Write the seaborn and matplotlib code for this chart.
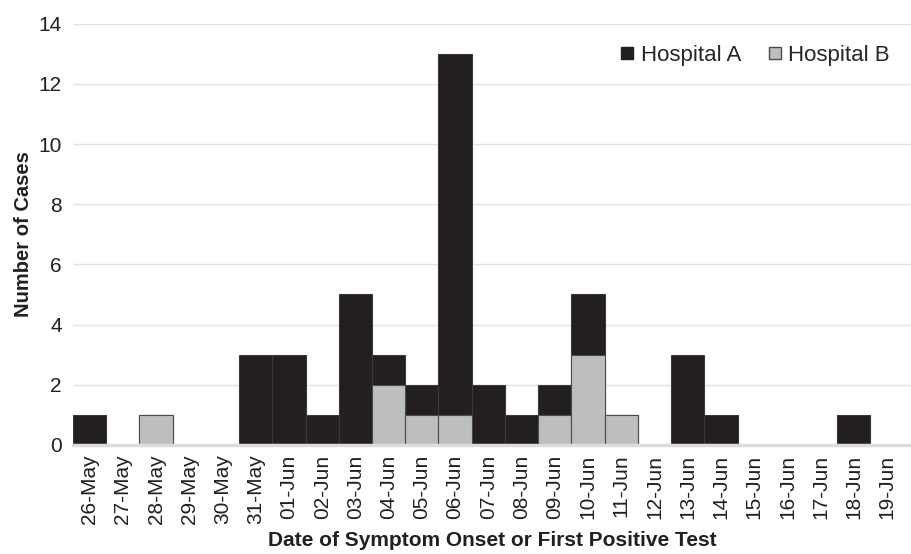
import matplotlib
matplotlib.use('Agg')
import matplotlib.pyplot as plt
import seaborn as sns
import pandas as pd

dates = ['26-May', '27-May', '28-May', '29-May', '30-May', '31-May',
         '01-Jun', '02-Jun', '03-Jun', '04-Jun', '05-Jun', '06-Jun',
         '07-Jun', '08-Jun', '09-Jun', '10-Jun', '11-Jun', '12-Jun',
         '13-Jun', '14-Jun', '15-Jun', '16-Jun', '17-Jun', '18-Jun', '19-Jun']
hospital_a = [1, 0, 0, 0, 0, 3, 3, 1, 5, 1, 1, 12, 2, 1, 1, 2, 0, 0, 3, 1, 0, 0, 0, 1, 0]
hospital_b = [0, 0, 1, 0, 0, 0, 0, 0, 0, 2, 1, 1, 0, 0, 1, 3, 1, 0, 0, 0, 0, 0, 0, 0, 0]

df = pd.DataFrame({'date': dates, 'A': hospital_a, 'B': hospital_b})
df['total'] = df['A'] + df['B']

color_a = '#231f20'
color_b = '#bcbec0'

sns.set_style('white')
plt.rcParams['font.family'] = ['Liberation Sans', 'DejaVu Sans']

fig = plt.figure(figsize=(9.12, 5.54), dpi=100)
ax = fig.add_axes([0.080, 0.197, 0.920, 0.760])

# stacked: total in black, Hospital B drawn over the bottom part
sns.barplot(data=df, x='date', y='total', color=color_a, width=1.0,
            edgecolor='#3a3a3a', linewidth=0.8, saturation=1, ax=ax)
sns.barplot(data=df, x='date', y='B', color=color_b, width=1.0,
            edgecolor='#4a4a4a', linewidth=0.8, saturation=1, ax=ax)

ax.set_xlim(-0.5, 24.75)
ax.set_ylim(0, 14)
ax.set_yticks(range(0, 15, 2))
ax.yaxis.grid(True, color='#e3e3e3', linewidth=1)
ax.set_axisbelow(True)
for s in ['top', 'right', 'left']:
    ax.spines[s].set_visible(False)
ax.spines['bottom'].set_color('#dcdcdc')
ax.spines['bottom'].set_linewidth(2.5)
ax.tick_params(axis='both', length=0, labelsize=15, colors='#231f20')
ax.tick_params(axis='x', rotation=90, pad=7)
ax.tick_params(axis='y', pad=8)

ax.set_xlabel('Date of Symptom Onset or First Positive Test', fontsize=15,
              fontweight='bold', color='#231f20', labelpad=5)
ax.set_ylabel('Number of Cases', fontsize=14.5, fontweight='bold',
              color='#231f20', labelpad=4)

handles = [plt.Line2D([], [], marker='s', linestyle='', markersize=9,
                      markerfacecolor=color_a, markeredgecolor=color_a),
           plt.Line2D([], [], marker='s', linestyle='', markersize=9,
                      markerfacecolor=color_b, markeredgecolor='#4a4a4a')]
ax.legend(handles, ['Hospital A', 'Hospital B'], loc='upper right',
          bbox_to_anchor=(0.997, 0.997), ncol=2, frameon=False, fontsize=16,
          handletextpad=0.1, columnspacing=1.0, handlelength=1.0)

fig.savefig('out.png', dpi=100)
